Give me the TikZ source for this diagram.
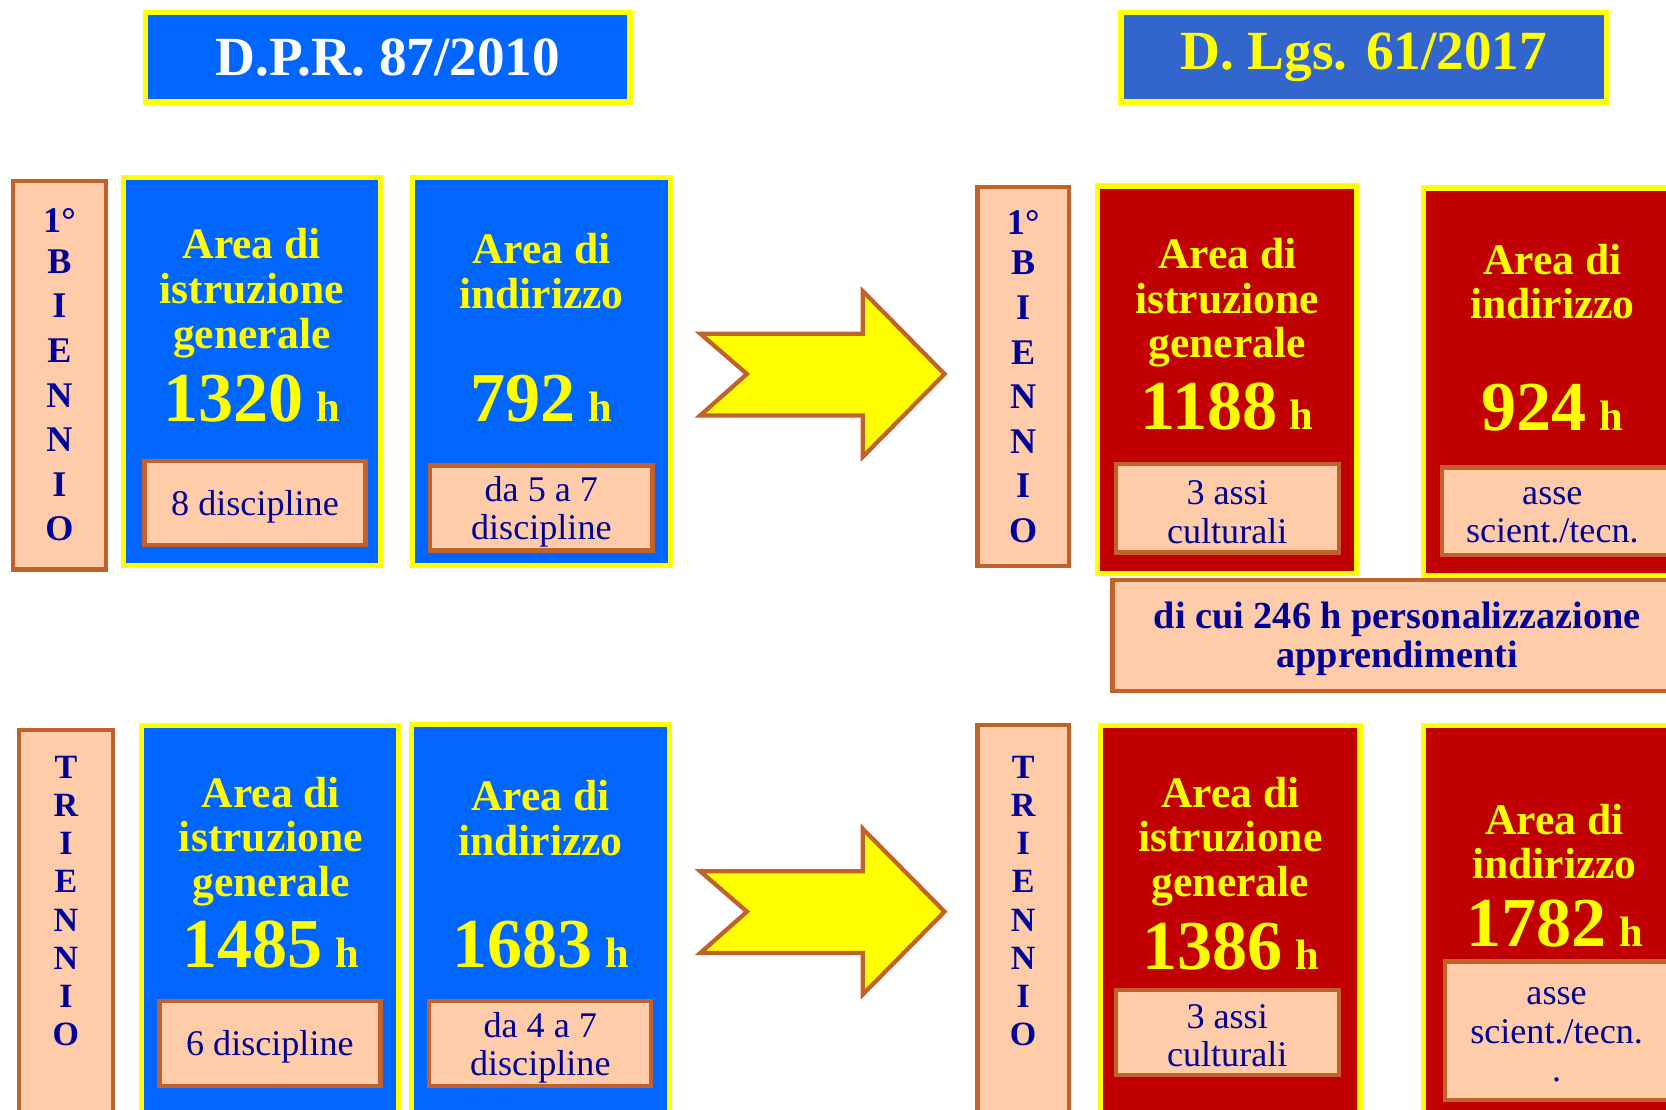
\documentclass[tikz,border=0pt]{standalone}
\usepackage{fontspec}
\setmainfont{Liberation Serif}
\definecolor{dprBlue}{HTML}{0066FF}
\definecolor{lgsBlue}{HTML}{3366CC}
\definecolor{lgsRed}{HTML}{C00000}
\definecolor{hlYellow}{HTML}{FFFF00}
\definecolor{peach}{HTML}{FFCCAA}
\definecolor{rust}{HTML}{C0622A}
\definecolor{navy}{HTML}{000099}
\newcommand{\titleFont}{\fontsize{52}{54}\selectfont\bfseries}
\newcommand{\areaFont}{\fontsize{41}{42}\selectfont\bfseries}
\newcommand{\numFont}{\fontsize{66}{66}\selectfont\bfseries}
\newcommand{\unitFont}{\fontsize{40}{40}\selectfont\bfseries}
\newcommand{\noteFont}{\fontsize{34}{36}\selectfont}
\tikzset{
    titleBox/.style={rectangle, draw=hlYellow, line width=5pt, minimum height=84pt, font=\titleFont},
    areaDpr/.style={rectangle, draw=hlYellow, fill=dprBlue, line width=5pt},
    areaLgs/.style={rectangle, draw=hlYellow, fill=lgsRed, line width=5pt},
    noteBox/.style={rectangle, draw=rust, fill=peach, line width=4pt},
    periodBox/.style={rectangle, draw=rust, fill=peach, line width=4pt, text=navy, align=center, inner sep=0pt, font=\fontsize{34}{42}\selectfont\bfseries},
    periodLabel/.style={text=navy, align=center, inner sep=0pt, font=\fontsize{32}{36}\selectfont\bfseries},
    areaLabel/.style={text=hlYellow, align=center, inner sep=0pt, font=\areaFont},
    hourLabel/.style={text=hlYellow, inner sep=0pt},
    noteLabel/.style={text=navy, align=center, inner sep=0pt, font=\noteFont},
    bigArrow/.style={draw=rust, fill=hlYellow, line width=4pt, line join=miter},
}
\newcommand{\hourLine}[1]{{\numFont #1}\hspace{12pt}{\unitFont h}}
\newcommand{\drawBigArrow}[1]{
    \draw[bigArrow, shift={(#1)}] (-115,-38) -- (38,-38) -- (38,-78) -- (115,0) -- (38,78) -- (38,39) -- (-115,39) -- (-71,0) -- cycle;
}

\begin{document}
\begin{tikzpicture}[x=1pt, y=-1pt]
    \useasboundingbox (0,0) rectangle (1568,1044);
    \clip (0,0) rectangle (1568,1044);

    % titoli
    \node[titleBox, fill=dprBlue, text=white, minimum width=456pt] (dpr) at (365,54) {D.P.R. 87/2010};
    \node[titleBox, fill=lgsBlue, text=hlYellow, minimum width=457pt] (lgs) at (1283.5,54) {D. Lgs. 61/2017};

    % biennio - D.P.R.
    \node[periodBox, minimum width=88pt, minimum height=366pt] (bienDpr) at (56,353) {1°\\[-4pt]B\\I\\E\\N\\N\\I\\O};
    \node[areaDpr, minimum width=242pt, minimum height=365pt] (genDprA) at (237,349.5) {};
    \node[areaLabel] (genDprAt) at (237,276) {Area di\\istruzione\\generale};
    \node[hourLabel] (genDprAh) at (237,375) {\hourLine{1320}};
    \node[noteBox, minimum width=208pt, minimum height=79pt] (genDprAn) at (240,473.5) {};
    \node[noteLabel] (genDprAnt) at (240,477) {8 discipline};
    \node[areaDpr, minimum width=243pt, minimum height=365pt] (indDprA) at (509.5,349.5) {};
    \node[areaLabel] (indDprAt) at (509.5,255) {Area di\\indirizzo};
    \node[hourLabel] (indDprAh) at (509.5,375) {\hourLine{792}};
    \node[noteBox, minimum width=209pt, minimum height=80pt] (indDprAn) at (509.5,478) {};
    \node[noteLabel] (indDprAnt) at (509.5,482) {da 5 a 7\\discipline};

    \coordinate (arrA) at (774,352);
    \drawBigArrow{arrA}

    % biennio - D. Lgs.
    \node[periodBox, minimum width=86pt, minimum height=357pt] (bienLgs) at (963,354.5) {1°\\[-4pt]B\\I\\E\\N\\N\\I\\O};
    \node[areaLgs, minimum width=244pt, minimum height=365pt] (genLgsA) at (1155,357.5) {};
    \node[areaLabel] (genLgsAt) at (1155,285) {Area di\\istruzione\\generale};
    \node[hourLabel] (genLgsAh) at (1155,383) {\hourLine{1188}};
    \node[noteBox, minimum width=210pt, minimum height=83pt] (genLgsAn) at (1155,478.5) {};
    \node[noteLabel] (genLgsAnt) at (1155,482) {3 assi\\culturali};
    \node[areaLgs, minimum width=260pt, minimum height=365pt] (indLgsA) at (1470,359.5) {};
    \node[areaLabel] (indLgsAt) at (1461,265) {Area di\\indirizzo};
    \node[hourLabel] (indLgsAh) at (1461,384) {\hourLine{924}};
    \node[noteBox, minimum width=243pt, minimum height=82pt] (indLgsAn) at (1478.5,481) {};
    \node[noteLabel] (indLgsAnt) at (1461,485) {asse\\scient./tecn.};
    \node[noteBox, minimum width=553pt, minimum height=104pt] (persLgs) at (1323.5,598) {};
    \node[noteLabel, font=\fontsize{36}{37}\selectfont\bfseries] (persLgst) at (1315,601) {di cui 246 h personalizzazione\\apprendimenti};

    % triennio - D.P.R.
    \node[periodBox, minimum width=88pt, minimum height=383pt] (trienDpr) at (62,878.5) {};
    \node[periodLabel] (trienDprt) at (62,848) {T\\R\\I\\E\\N\\N\\I\\O};
    \node[areaDpr, minimum width=242pt, minimum height=387pt] (genDprB) at (254,876.5) {};
    \node[areaLabel] (genDprBt) at (255,792) {Area di\\istruzione\\generale};
    \node[hourLabel] (genDprBh) at (255,889) {\hourLine{1485}};
    \node[noteBox, minimum width=208pt, minimum height=80pt] (genDprBn) at (254,982) {};
    \node[noteLabel] (genDprBnt) at (254,985) {6 discipline};
    \node[areaDpr, minimum width=243pt, minimum height=388pt] (indDprB) at (508.5,876) {};
    \node[areaLabel] (indDprBt) at (508.5,770) {Area di\\indirizzo};
    \node[hourLabel] (indDprBh) at (509,889) {\hourLine{1683}};
    \node[noteBox, minimum width=209pt, minimum height=80pt] (indDprBn) at (508.5,982) {};
    \node[noteLabel] (indDprBnt) at (508.5,986) {da 4 a 7\\discipline};

    \coordinate (arrB) at (774,858);
    \drawBigArrow{arrB}

    % triennio - D. Lgs.
    \node[periodBox, minimum width=86pt, minimum height=388pt] (trienLgs) at (963,876) {};
    \node[periodLabel] (trienLgst) at (963,848) {T\\R\\I\\E\\N\\N\\I\\O};
    \node[areaLgs, minimum width=244pt, minimum height=387pt] (genLgsB) at (1158,876.5) {};
    \node[areaLabel] (genLgsBt) at (1158,792) {Area di\\istruzione\\generale};
    \node[hourLabel] (genLgsBh) at (1158,891) {\hourLine{1386}};
    \node[noteBox, minimum width=210pt, minimum height=80pt] (genLgsBn) at (1155,972) {};
    \node[noteLabel] (genLgsBnt) at (1155,975) {3 assi\\culturali};
    \node[areaLgs, minimum width=260pt, minimum height=387pt] (indLgsB) at (1470,876.5) {};
    \node[areaLabel] (indLgsBt) at (1463,792) {Area di\\indirizzo};
    \node[hourLabel] (indLgsBh) at (1463,869) {\hourLine{1782}};
    \node[noteBox, minimum width=240pt, minimum height=130pt] (indLgsBn) at (1480,970) {};
    \node[noteLabel] (indLgsBnt) at (1465,974) {asse\\scient./tecn.\\.};

\end{tikzpicture}
\end{document}
